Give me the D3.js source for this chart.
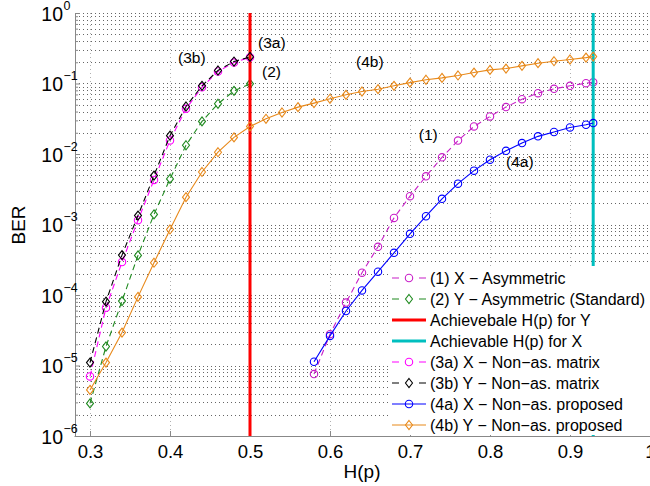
<!DOCTYPE html>
<html>
<head>
<meta charset="utf-8">
<script src="https://cdn.jsdelivr.net/npm/d3@7"></script>
<style>
  html, body { margin: 0; padding: 0; background: #fff; }
  svg { display: block; font-family: "Liberation Sans", Arial, sans-serif; }
</style>
</head>
<body>
<div id="chart"></div>
<script>
// H(p) sample positions
const xShort = [0.30, 0.32, 0.34, 0.36, 0.38, 0.40, 0.42, 0.44, 0.46, 0.48, 0.50];
const xLong = [0.58, 0.60, 0.62, 0.64, 0.66, 0.68, 0.70, 0.72, 0.74, 0.76, 0.78, 0.80, 0.82, 0.84, 0.86, 0.88, 0.90, 0.92, 0.929];
const xFull = [0.30, 0.32, 0.34, 0.36, 0.38, 0.40, 0.42, 0.44, 0.46, 0.48, 0.50, 0.52, 0.54, 0.56, 0.58,
  0.60, 0.62, 0.64, 0.66, 0.68, 0.70, 0.72, 0.74, 0.76, 0.78, 0.80, 0.82, 0.84, 0.86, 0.88, 0.90, 0.92, 0.929];

// BER values
const ber1 = [7.55e-6, 2.78e-5, 7.8e-5, 2.07e-4, 4.83e-4, 1.24e-3, 2.52e-3, 4.83e-3, 8.97e-3, 1.55e-2,
  2.46e-2, 3.41e-2, 4.63e-2, 6.0e-2, 7.3e-2, 8.4e-2, 9.27e-2, 0.101, 0.104];
const ber2 = [2.9e-6, 1.86e-5, 8.2e-5, 3.64e-4, 1.39e-3, 4.43e-3, 1.33e-2, 2.9e-2, 5.16e-2, 7.87e-2, 9.9e-2];
const ber3a = [7.0e-6, 6.6e-5, 2.93e-4, 1.15e-3, 4.29e-3, 1.56e-2, 4.38e-2, 8.87e-2, 0.148, 0.198, 0.236];
const ber3b = [1.1e-5, 8.05e-5, 3.68e-4, 1.34e-3, 4.94e-3, 1.82e-2, 4.72e-2, 9.27e-2, 0.153, 0.205, 0.238];
const ber4a = [1.13e-5, 2.63e-5, 5.93e-5, 1.16e-4, 2.14e-4, 3.97e-4, 7.38e-4, 1.31e-3, 2.31e-3, 3.8e-3,
  5.81e-3, 8.3e-3, 1.11e-2, 1.43e-2, 1.78e-2, 2.05e-2, 2.38e-2, 2.6e-2, 2.75e-2];
const ber4b = [4.5e-6, 1.1e-5, 2.93e-5, 9.4e-5, 2.87e-4, 8.5e-4, 2.44e-3, 5.56e-3, 1.06e-2, 1.72e-2, 2.46e-2,
  3.16e-2, 3.88e-2, 4.62e-2, 5.27e-2, 6.07e-2, 6.91e-2, 7.7e-2, 8.3e-2, 9.27e-2, 0.103, 0.113, 0.120, 0.130,
  0.143, 0.156, 0.163, 0.178, 0.194, 0.207, 0.219, 0.233, 0.241];

// achievable H(p) limits
const limitY = 0.5;
const limitX = 0.929;

const xTicks = [0.3, 0.4, 0.5, 0.6, 0.7, 0.8, 0.9, 1.0];
const yDecades = [1e-6, 1e-5, 1e-4, 1e-3, 1e-2, 1e-1, 1];

const legendLabels = [
  "(1) X \u2212 Asymmetric",
  "(2) Y \u2212 Asymmetric (Standard)",
  "Achievebale H(p) for Y",
  "Achievable H(p) for X",
  "(3a) X \u2212 Non\u2212as. matrix",
  "(3b) Y \u2212 Non\u2212as. matrix",
  "(4a) X \u2212 Non\u2212as. proposed",
  "(4b) Y \u2212 Non\u2212as. proposed"
];

// curve annotations: [text, H(p), BER]
const notes = [
  ["(3a)", 0.510, 0.319],
  ["(3b)", 0.410, 0.195],
  ["(2)", 0.515, 0.124],
  ["(4b)", 0.6325, 0.171],
  ["(1)", 0.711, 0.0158],
  ["(4a)", 0.820, 0.00654]
];

const W = 650, H = 486;
const svg = d3.select("#chart").append("svg").attr("width", W).attr("height", H);

const x = d3.scaleLinear().domain([0.28, 1.0]).range([74, 650]);
const y = d3.scaleLog().domain([1e-6, 1]).range([436, 13]);

// minor log positions
const yMinor = [];
yDecades.slice(0, -1).forEach(d => { for (let k = 2; k <= 9; k++) yMinor.push(d * k); });

// grid
const grid = svg.append("g");
grid.selectAll(".vg").data(xTicks).enter().append("line")
  .attr("x1", d => Math.round(x(d)) + 0.5).attr("x2", d => Math.round(x(d)) + 0.5).attr("y1", 13).attr("y2", 436)
  .attr("stroke", "#b0b0b0").attr("stroke-width", 1).attr("stroke-dasharray", "1,3");
grid.selectAll(".hg").data(yDecades.concat(yMinor)).enter().append("line")
  .attr("x1", 75).attr("x2", 650).attr("y1", d => Math.round(y(d)) + 0.5).attr("y2", d => Math.round(y(d)) + 0.5)
  .attr("stroke", "#666").attr("stroke-width", 1).attr("stroke-dasharray", "1,3");

// axes
const axisColor = "#888";
const yAxis = svg.append("g").attr("transform", "translate(75,0)")
  .call(d3.axisLeft(y).tickValues(yDecades).tickSize(-5).tickSizeOuter(0).tickFormat(() => ""));
const yAxisMinor = svg.append("g").attr("transform", "translate(75,0)")
  .call(d3.axisLeft(y).tickValues(yMinor).tickSize(-3).tickSizeOuter(0).tickFormat(() => ""));
yAxisMinor.select(".domain").remove();
const xAxis = svg.append("g").attr("transform", "translate(0,436)")
  .call(d3.axisBottom(x).tickValues(xTicks).tickSize(-5).tickSizeOuter(0).tickPadding(9)
    .tickFormat(d => d === 1 ? "1" : d.toFixed(1)));
[yAxis, yAxisMinor, xAxis].forEach(g => {
  g.selectAll("path,line").attr("stroke", axisColor);
});
xAxis.selectAll("text").attr("fill", "#000").style("font-size", "18.5px").style("font-family", "'Liberation Sans', Arial, sans-serif");

// 10^n labels
yAxis.selectAll(".tick").each(function (d) {
  const t = d3.select(this);
  const e = Math.round(Math.log10(d));
  t.append("text").attr("x", -12).attr("y", 7).attr("text-anchor", "end")
    .attr("fill", "#000").style("font-size", "19.5px").text("10");
  t.append("text").attr("x", -11.5).attr("y", -4).attr("text-anchor", "start")
    .attr("fill", "#000").style("font-size", "12.5px").text(e === 0 ? "0" : "\u2212" + (-e));
});

// axis titles
svg.append("text").attr("x", 362).attr("y", 478).attr("text-anchor", "middle")
  .style("font-size", "19px").text("H(p)");
svg.append("text").attr("transform", "translate(25,225) rotate(-90)").attr("text-anchor", "middle")
  .style("font-size", "19px").text("BER");

// series
const series = [
  { xs: xLong, ys: ber1, color: "#c81ec8", dash: "6,4", marker: "circle" },
  { xs: xShort, ys: ber2, color: "#1f8a1f", dash: "6,4", marker: "diamond" },
  { limit: limitY, color: "#ff0000" },
  { limit: limitX, color: "#00bfbf" },
  { xs: xShort, ys: ber3a, color: "#ff00ff", dash: "6,4", marker: "circle" },
  { xs: xShort, ys: ber3b, color: "#000000", dash: "6,4", marker: "diamond" },
  { xs: xLong, ys: ber4a, color: "#0000ff", dash: null, marker: "circle" },
  { xs: xFull, ys: ber4b, color: "#e8891a", dash: null, marker: "diamond" }
];

const line = d3.line().x(d => x(d[0])).y(d => y(d[1]));
const diamond = "M0,-4.5L3.5,0L0,4.5L-3.5,0Z";

function drawMarker(g, type, color) {
  if (type === "circle") {
    g.append("circle").attr("r", 3.7).attr("fill", "none").attr("stroke", color).attr("stroke-width", 1.1);
  } else {
    g.append("path").attr("d", diamond).attr("fill", "none").attr("stroke", color).attr("stroke-width", 1.1);
  }
}

const plot = svg.append("g");
series.forEach(s => {
  if (s.limit !== undefined) {
    plot.append("line").attr("x1", x(s.limit)).attr("x2", x(s.limit)).attr("y1", 13).attr("y2", 436)
      .attr("stroke", s.color).attr("stroke-width", 3);
    return;
  }
  const pts = s.xs.map((v, i) => [v, s.ys[i]]);
  plot.append("path").datum(pts).attr("d", line).attr("fill", "none")
    .attr("stroke", s.color).attr("stroke-width", 1.1)
    .attr("stroke-dasharray", s.dash);
  pts.forEach(p => {
    const g = plot.append("g").attr("transform", `translate(${x(p[0])},${y(p[1])})`);
    drawMarker(g, s.marker, s.color);
  });
});

// curve annotations
svg.selectAll(".note").data(notes).enter().append("text")
  .attr("x", d => x(d[1])).attr("y", d => y(d[2]))
  .style("font-size", "15.5px").attr("fill", "#000").text(d => d[0]);

// legend
const legend = svg.append("g");
legend.append("rect").attr("x", 388).attr("y", 266).attr("width", 261).attr("height", 169).attr("fill", "#fff");
series.forEach((s, i) => {
  const ly = 278 + i * 21;
  const row = legend.append("g");
  if (s.limit !== undefined) {
    row.append("line").attr("x1", 392).attr("x2", 426).attr("y1", ly).attr("y2", ly)
      .attr("stroke", s.color).attr("stroke-width", 3);
  } else {
    row.append("line").attr("x1", 392).attr("x2", 426).attr("y1", ly).attr("y2", ly)
      .attr("stroke", s.color).attr("stroke-width", 1.1)
      .attr("stroke-dasharray", s.dash ? "7,20" : null);
    drawMarker(row.append("g").attr("transform", `translate(409,${ly})`), s.marker, s.color);
  }
  row.append("text").attr("x", 430).attr("y", ly + 5.5).style("font-size", "16px").attr("fill", "#000")
    .text(legendLabels[i]);
});
</script>
</body>
</html>
